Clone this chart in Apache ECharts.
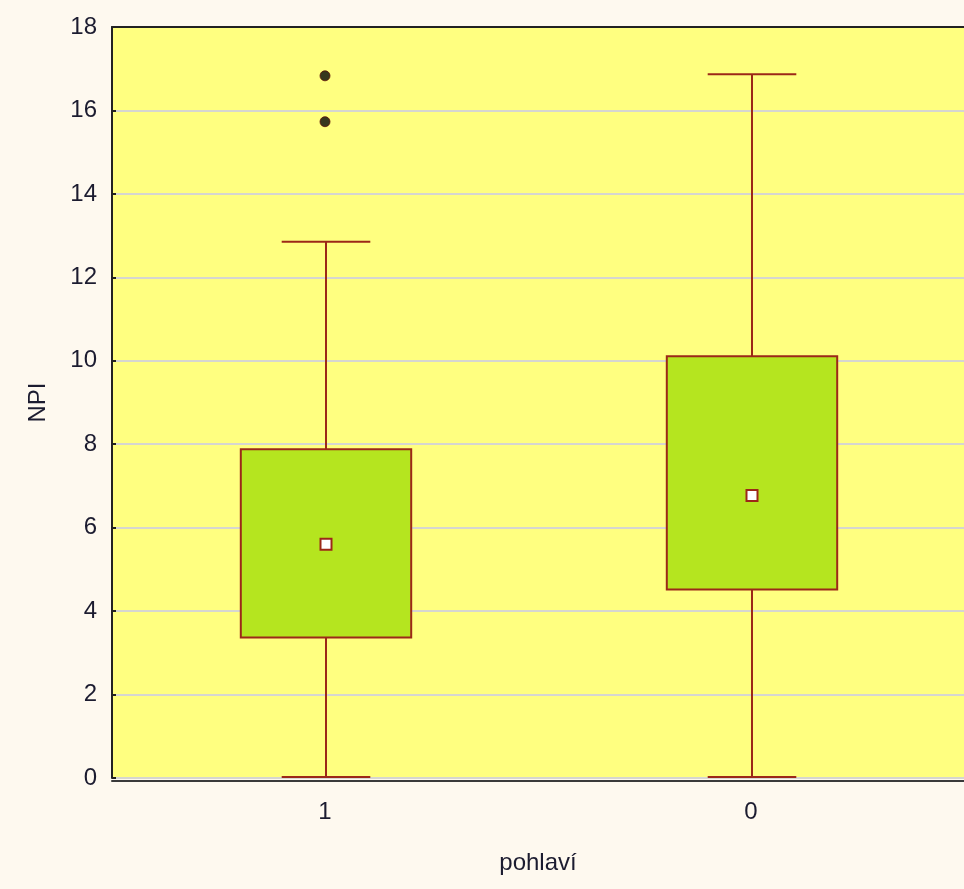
<!DOCTYPE html>
<html>
<head>
<meta charset="utf-8">
<script src="https://cdn.jsdelivr.net/npm/echarts@6/dist/echarts.min.js"></script>
<style>
  html, body { margin: 0; padding: 0; background: #FEF9EF; }
  #chart { width: 964px; height: 889px; }
</style>
</head>
<body>
<div id="chart"></div>
<script>
// Box plot of NPI score by sex (pohlaví)
var categories = ['1', '0'];
var lowerWhisker = [0, 0];
var q1 = [3.37, 4.52];
var centerValue = [5.60, 6.77];
var q3 = [7.88, 10.11];
var upperWhisker = [12.85, 16.87];
var outlierCategory = ['1', '1'];
var outlierValue = [16.83, 15.73];
var yTicks = [0, 2, 4, 6, 8, 10, 12, 14, 16, 18];

var edgeColor = '#9C2818';
var boxFill = '#B5E51F';
var textColor = '#1C1C30';
var fontFamily = '"Liberation Sans", Arial, sans-serif';

var boxData = categories.map(function (c, i) {
  return [i, lowerWhisker[i], q1[i], centerValue[i], q3[i], upperWhisker[i]];
});
var outlierData = outlierCategory.map(function (c, i) {
  return [c, outlierValue[i]];
});

function renderBox(params, api) {
  var idx = api.value(0);
  var band = api.size([1, 0])[0];
  var boxW = band * 0.40;
  var capW = boxW * 0.52;
  var pLow = api.coord([idx, api.value(1)]);
  var pQ1 = api.coord([idx, api.value(2)]);
  var pMid = api.coord([idx, api.value(3)]);
  var pQ3 = api.coord([idx, api.value(4)]);
  var pHigh = api.coord([idx, api.value(5)]);
  var x = Math.round(pMid[0]) + 1;
  var lineStyle = { stroke: edgeColor, lineWidth: 2, fill: null };
  return {
    type: 'group',
    children: [
      { type: 'line', shape: { x1: x, y1: pHigh[1], x2: x, y2: pQ3[1] }, style: lineStyle },
      { type: 'line', shape: { x1: x, y1: pQ1[1], x2: x, y2: pLow[1] }, style: lineStyle },
      { type: 'line', shape: { x1: x - capW / 2, y1: pHigh[1], x2: x + capW / 2, y2: pHigh[1] }, style: lineStyle },
      { type: 'line', shape: { x1: x - capW / 2, y1: pLow[1] - 1, x2: x + capW / 2, y2: pLow[1] - 1 }, style: lineStyle },
      {
        type: 'rect',
        shape: { x: x - boxW / 2, y: pQ3[1], width: boxW, height: pQ1[1] - pQ3[1] },
        style: { fill: boxFill, stroke: edgeColor, lineWidth: 2 }
      },
      {
        type: 'rect',
        shape: { x: x - 5.5, y: pMid[1] - 5.5, width: 11, height: 11 },
        style: { fill: '#FFFFFF', stroke: edgeColor, lineWidth: 2 }
      }
    ]
  };
}

var chart = echarts.init(document.getElementById('chart'), null, { renderer: 'canvas' });
chart.setOption({
  backgroundColor: '#FEF9EF',
  animation: false,
  grid: {
    left: 112, width: 855, top: 27, bottom: 111,
    show: true, backgroundColor: '#FFFF80', borderWidth: 0
  },
  xAxis: [{
    type: 'category',
    data: categories,
    position: 'bottom',
    boundaryGap: true,
    offset: 3,
    name: 'pohlaví',
    nameLocation: 'middle',
    nameGap: 70,
    nameTextStyle: { fontSize: 24, color: textColor, fontFamily: fontFamily },
    axisLine: { show: true, onZero: false, lineStyle: { color: '#3A3A3A', width: 2 } },
    axisTick: { show: false },
    axisLabel: { fontSize: 24, color: textColor, fontFamily: fontFamily, margin: 19 },
    splitLine: { show: false }
  }, {
    type: 'category',
    data: categories,
    position: 'top',
    axisLine: { show: true, onZero: false, lineStyle: { color: '#222', width: 2 } },
    axisTick: { show: false },
    axisLabel: { show: false },
    splitLine: { show: false }
  }],
  yAxis: {
    type: 'value',
    min: 0, max: 18, interval: 2,
    name: 'NPI',
    nameLocation: 'middle',
    nameGap: 62,
    nameRotate: 90,
    nameTextStyle: { fontSize: 24, color: textColor, fontFamily: fontFamily },
    axisLine: { show: true, lineStyle: { color: '#222', width: 2 } },
    axisTick: { show: true, inside: true, length: 4, lineStyle: { color: '#222', width: 2 } },
    axisLabel: {
      fontSize: 24, color: textColor, fontFamily: fontFamily, margin: 15,
      formatter: function (v) { return yTicks.indexOf(v) >= 0 ? String(v) : ''; }
    },
    splitLine: { show: true, lineStyle: { color: '#D6D6D0', width: 2 } }
  },
  series: [{
    type: 'custom',
    renderItem: renderBox,
    encode: { x: 0, y: [1, 2, 3, 4, 5] },
    data: boxData,
    clip: false,
    z: 3
  }, {
    type: 'scatter',
    data: outlierData,
    symbol: 'circle',
    symbolSize: 10,
    itemStyle: { color: '#050505', borderColor: '#5A1208', borderWidth: 1 },
    z: 4
  }]
});
</script>
</body>
</html>
